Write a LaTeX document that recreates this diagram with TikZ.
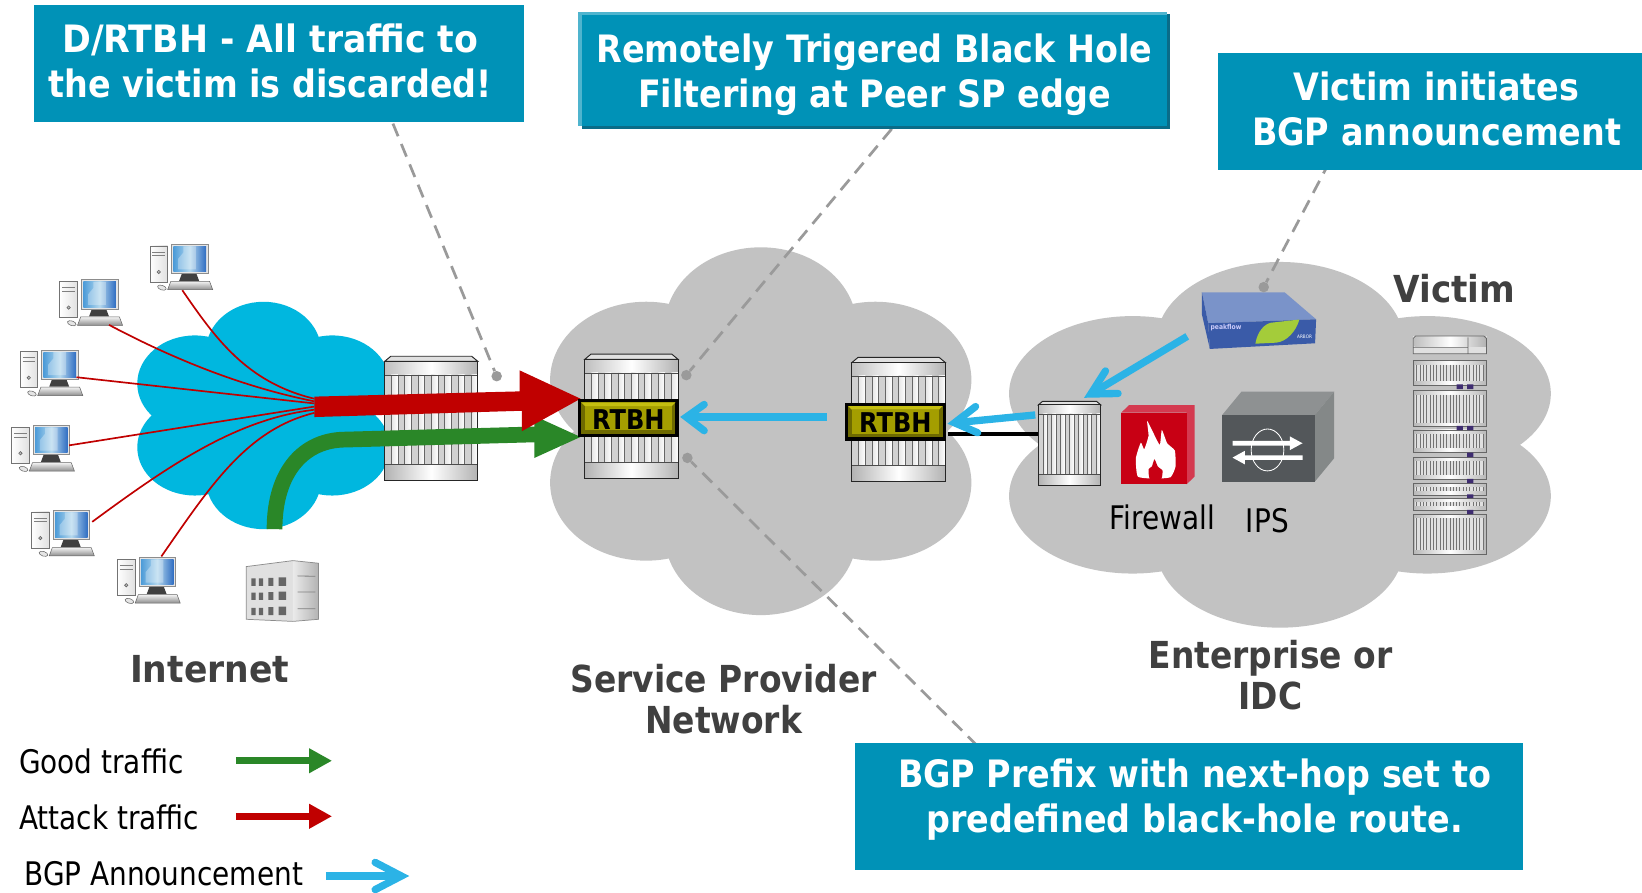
\documentclass[tikz,border=0pt]{standalone}
\usepackage{graphicx}
\usepackage{fontspec}
\setmainfont{DejaVu Sans}
\newfontfamily\hb[FakeStretch=0.885]{DejaVu Sans}
\newfontfamily\hr[FakeStretch=0.86]{DejaVu Sans}
\definecolor{cbox}{HTML}{0092B7}
\definecolor{cdark}{HTML}{404040}
\definecolor{cgrey}{HTML}{C2C2C2}
\definecolor{cnet}{HTML}{00B7DF}
\definecolor{cred}{HTML}{C00000}
\definecolor{cgreen}{HTML}{2A8728}
\definecolor{cblue}{HTML}{2BB3E6}
\definecolor{clead}{HTML}{9A9A9A}
\definecolor{cpurple}{HTML}{3E2C70}
\definecolor{cfa}{HTML}{D43A50}
\definecolor{cfb}{HTML}{C80014}
\definecolor{cia}{HTML}{8E9192}
\definecolor{cib}{HTML}{848888}
\definecolor{cic}{HTML}{53575A}
\definecolor{cpa}{HTML}{7A93C9}
\definecolor{cpb}{HTML}{3A5BA8}
\definecolor{cpc}{HTML}{A4CC3A}
\definecolor{cba}{HTML}{6E6A00}
\definecolor{cbb}{HTML}{A49E00}
\definecolor{cbc}{HTML}{C4BE10}
\definecolor{cta}{HTML}{4FB4CE}
\definecolor{ctb}{HTML}{0A6C88}
\definecolor{cscra}{HTML}{4C9BD8}
\definecolor{cscrb}{HTML}{B4D8EE}
\definecolor{cscrc}{HTML}{2F6DC2}
\tikzset{
  boxshape/.style={fill=cbox,draw=none,inner sep=0pt,outer sep=0pt,rectangle},
  boxtext/.style={font=\hb\bfseries\fontsize{36}{43}\selectfont,text=white,align=center,inner sep=0pt},
  headlabel/.style={font=\hb\bfseries\fontsize{35.5}{39}\selectfont,text=cdark,align=center,inner sep=0pt},
  plainlabel/.style={font=\hr\fontsize{31}{36}\selectfont,text=black,inner sep=0pt},
  leader/.style={draw=clead,line width=2.6pt,dash pattern=on 13pt off 8pt},
  leaddot/.style={circle,fill=clead,minimum size=10pt,inner sep=0pt,draw=none},
  openshaft/.style={draw=cblue,line width=7pt},
  openbarb/.style={draw=cblue,line width=7pt,line cap=round,line join=miter},
  redline/.style={draw=cred,line width=1.6pt},
  pics/computer/.style={code={
    \draw[black!55,line width=.6pt,left color=white,right color=black!12] (0,1.6) rectangle (17,36);
    \draw[black!50,line width=.8pt] (2.5,7.5)--(14.5,7.5) (2.5,11)--(14.5,11);
    \draw[black!60,fill=black!25,line width=.6pt] (8.5,26.5) circle (1.6);
    \fill[black!75] (31,27)--(44,27)--(47,35)--(28,35)--cycle;
    \draw[black!45,fill=black!10,line width=.6pt] (20.5,0) rectangle (55.6,28);
    \shade[left color=cscra,right color=cscrc,middle color=cscrb] (22.5,2) rectangle (53.6,26);
    \fill[white,opacity=.3] (32,2) rectangle (44,24) (27,14)--(32,8)--(32,24)--(27,24)--cycle;
    \draw[black!60,line width=.5pt,top color=black!5,bottom color=black!45] (20,35.5)--(57,35.5)--(60,43.5)--(17,43.5)--cycle;
    \draw[black!60,line width=.5pt,fill=black!10,rotate around={-18:(11.5,41.5)}] (11.5,41.5) ellipse [x radius=4.3,y radius=2.2];
  }},
  pics/router/.style={code={
    \draw[black!85,line width=.9pt,fill=black!12] (6,0)--(84,0)--(90,5)--(0,5)--cycle;
    \shade[left color=black!25,right color=black!30,middle color=white] (0,5) rectangle (90,18);
    \fill[black!18] (0,18) rectangle (90,104);
    \foreach \ix in {1,3,...,13}{\shade[left color=black!10,right color=white] ({\ix*6.43},18) rectangle ({(\ix+1)*6.43},104);}
    \foreach \ix in {1,...,13}{\draw[black!60,line width=.7pt] ({\ix*6.43},18)--({\ix*6.43},104);}
    \shade[left color=black!30,right color=black!30,middle color=white] (0,104) rectangle (90,120);
    \draw[black!70,line width=.6pt] (0,18)--(90,18) (0,104)--(90,104);
    \draw[black!85,line width=.9pt] (0,5) rectangle (90,120);
  }},
  pics/rackunit/.style={code={
    \shade[left color=black!28,right color=black!28,middle color=white] (0,0) rectangle (70,#1);
    \fill[black!12] (2,4) rectangle (68,#1-4);
    \foreach \ix in {1,...,21}{\draw[black!55,line width=.6pt] ({\ix*3.18},4)--({\ix*3.18},#1-4);}
    \draw[black!60,line width=.7pt] (0,0) rectangle (70,#1);
  }}
}
\newcommand{\cloudshape}[5]{% x y w h colour
  \fill[#5] (#1+0.5*#3,#2+0.217*#4) ellipse [x radius=0.228*#3,y radius=0.217*#4];
  \fill[#5] (#1+0.5*#3,#2+0.783*#4) ellipse [x radius=0.228*#3,y radius=0.217*#4];
  \fill[#5] (#1+0.228*#3,#2+0.36*#4) ellipse [x radius=0.228*#3,y radius=0.212*#4];
  \fill[#5] (#1+0.772*#3,#2+0.36*#4) ellipse [x radius=0.228*#3,y radius=0.212*#4];
  \fill[#5] (#1+0.228*#3,#2+0.64*#4) ellipse [x radius=0.228*#3,y radius=0.212*#4];
  \fill[#5] (#1+0.772*#3,#2+0.64*#4) ellipse [x radius=0.228*#3,y radius=0.212*#4];
  \fill[#5] (#1+0.2*#3,#2+0.22*#4) rectangle (#1+0.8*#3,#2+0.78*#4);
}
\newcommand{\badge}[3]{%
  \fill[black] (#1,#2) rectangle (#1+96,#2+36);
  \fill[cba] (#1+3,#2+3) rectangle (#1+93,#2+33);
  \fill[cbb] (#1+6.5,#2+6.5) rectangle (#1+89.5,#2+29.5);
  \fill[cbc] (#1+3,#2+3)--(#1+93,#2+3)--(#1+89.5,#2+6.5)--(#1+6.5,#2+6.5)--cycle;
  \node[font=\hb\bfseries\fontsize{26}{30}\selectfont,text=black,inner sep=0pt] (#3) at (#1+48,#2+19) {RTBH};
}
\begin{document}
\begin{tikzpicture}[x=1pt,y=-1pt]
\useasboundingbox (0,0) rectangle (1567,851.3);
\fill[white] (0,0) rectangle (1567,851.3);

% clouds
\cloudshape{131}{288}{241}{217}{cnet}
\cloudshape{525}{236}{402}{351}{cgrey}
\cloudshape{963}{250}{517}{349}{cgrey}

% computers
\pic (pc1) at (143,233) {computer};
\pic (pc2) at (57,267) {computer};
\pic (pc3) at (19,334) {computer};
\pic (pc4) at (11,406) {computer};
\pic (pc5) at (30,487) {computer};
\pic (pc6) at (112,532) {computer};

% building
\fill[black!12] (235,540.7)--(279.5,535)--(279.5,593)--(235,591)--cycle;
\shade[left color=black!8,right color=black!30] (279.5,535)--(304,537.5)--(304,591)--(279.5,593)--cycle;
\draw[black!45,line width=.7pt] (235,540.7)--(279.5,535)--(304,537.5)--(304,591)--(279.5,593)--(235,591)--cycle;
\foreach \wy in {552,565.5,580}{
  \fill[black!60] (240,\wy) rectangle (244,\wy+7) (247,\wy) rectangle (251,\wy+7) (256,\wy-.5) rectangle (261,\wy+7) (266,\wy-1) rectangle (273,\wy+7);
}
\draw[black!50,line width=.8pt] (284,549.6)--(301,550) (284,565)--(301,565) (284,581)--(301,581);

% routers
\pic[xscale=.99,yscale=.99] (rin) at (367,340) {router};
\pic[xscale=.99,yscale=.99] (rsp) at (558,338) {router};
\pic[xscale=.99,yscale=.99] (rpe) at (813,341) {router};
\pic[xscale=.66,yscale=.667] (rfw) at (991,383) {router};

% firewall
\fill[cfa] (1070,393.8)--(1077.6,386.5)--(1140,386.5)--(1140,454.9)--(1132.3,462.2)--(1132.3,393.8)--cycle;
\fill[cfb] (1070,393.8) rectangle (1132.3,462.2);
\begin{scope}[shift={(973.3,267.2)},scale=.318]
  \fill[white] plot[smooth cycle,tension=.3] coordinates {(354,590)(348,535)(363,488)(373,508)(386,468)(382,423)(402,462)(420,495)(426,450)(442,490)(465,512)(467,560)(452,592)(405,596)};
  \fill[cfb] plot[smooth cycle,tension=.3] coordinates {(390,597)(386,568)(396,560)(404,538)(414,560)(428,572)(424,597)};
\end{scope}

% IPS
\fill[cia] (1166.4,396)--(1184.8,373.7)--(1273.2,373.7)--(1254.8,396)--cycle;
\fill[cib] (1254.8,396)--(1273.2,373.7)--(1273.2,437.3)--(1254.8,459.6)--cycle;
\fill[cic] (1166.4,396) rectangle (1254.8,459.6);
\draw[white,line width=.8pt] (1209.6,429.4) ellipse [x radius=15.6,y radius=20];
\fill[white] (1176.2,420.8) rectangle (1231,425.2) (1231,416.5)--(1243,423)--(1231,429.5)--cycle;
\fill[white] (1243,434.5) rectangle (1188,438.9) (1188,430.2)--(1176.2,436.7)--(1188,443.2)--cycle;

% peakflow box
\fill[cpa] (1147,279)--(1226,279)--(1256,304.7)--(1153,308.5)--cycle;
\fill[cpb] (1147,279)--(1153,308.5)--(1154.6,333)--(1147,300)--cycle;
\fill[cpb] (1153,308.5)--(1256,304.7)--(1255,327.6)--(1154.6,333)--cycle;
\fill[cpc] (1198,328) .. controls (1200,316) and (1207,309) .. (1213,308) -- (1240,304.9) .. controls (1237,316) and (1228,326) .. (1218,327)--cycle;
\node[font=\hb\bfseries\fontsize{6.5}{8}\selectfont,text=black!10!blue!20!white,inner sep=0pt] (peaklabel) at (1170,312.5) {peakflow};
\node[font=\hb\fontsize{4.5}{6}\selectfont,text=white,inner sep=0pt] (arborlabel) at (1245,321.5) {ARBOR};

% victim rack
\fill[black!12] (1348.6,320.6) rectangle (1418.6,337.5);
\shade[left color=black!25,right color=black!30,middle color=white] (1350,321.5) rectangle (1418,331);
\draw[black!60,line width=.7pt] (1348.6,323)--(1351,320.6)--(1416,320.6)--(1418.6,323)--(1418.6,337.5)--(1348.6,337.5)--cycle (1348.6,331.5)--(1401,331.5) (1401,322)--(1401,337.5);
\pic at (1348.6,343.9) {rackunit=23.5};
\pic at (1348.6,372.5) {rackunit=34.7};
\pic at (1348.6,410.3) {rackunit=21.7};
\pic at (1348.6,436.4) {rackunit=20.6};
\pic at (1348.6,461.2) {rackunit=11.2};
\pic at (1348.6,475.5) {rackunit=11.2};
\pic at (1348.6,490.8) {rackunit=37.9};
\fill[cpurple] (1390,366.8) rectangle (1396,371.3) (1400,366.8) rectangle (1406,371.3)
  (1390,406.5) rectangle (1396,410.5) (1400,406.5) rectangle (1406,410.5)
  (1400,432) rectangle (1406,436.2) (1400,457) rectangle (1406,461)
  (1400,471.8) rectangle (1406,475.3) (1400,486.6) rectangle (1406,490.6);

% connector points
\coordinate (j1) at (300,380.5);
\coordinate (j2) at (300,383);
\coordinate (j3) at (300,385);
\coordinate (j4) at (300,388);
\coordinate (j5) at (300,391);
\coordinate (j6) at (300,394);
\coordinate (s1) at (174,277);
\coordinate (s2) at (104,310);
\coordinate (s3) at (73,360);
\coordinate (s4) at (66,425);
\coordinate (s5) at (88,498);
\coordinate (s6) at (154,531);

% red lines
\draw[redline] (s1) .. controls (205,322) and (235,365) .. (j1);
\draw[redline] (s2) .. controls (170,345) and (235,370) .. (j2);
\draw[redline] (s3) -- (j3);
\draw[redline] (s4) -- (j4);
\draw[redline] (s5) .. controls (160,445) and (225,400) .. (j5);
\draw[redline] (s6) .. controls (200,465) and (235,410) .. (j6);

% leaders
\coordinate (l1a) at (375,118); \node[leaddot] (l1b) at (474,359) {};
\coordinate (l2a) at (851,123); \node[leaddot] (l2b) at (655,358) {};
\coordinate (l3a) at (1269,154); \node[leaddot] (l3b) at (1206,274) {};
\coordinate (l4a) at (933,712); \node[leaddot] (l4b) at (656,437) {};
\draw[leader] (l1a) -- (l1b);
\draw[leader] (l2a) -- (l2b);
\draw[leader] (l3a) -- (l3b);
\draw[leader] (l4a) -- (l4b);

% green and red big arrows
\coordinate (gs) at (262,505);
\coordinate (gm) at (330,419.5);
\coordinate (ge) at (512,414.5);
\draw[cgreen,line width=15pt] (gs) .. controls (262,450) and (290,419.5) .. (gm) -- (ge);
\fill[cgreen] (510,397)--(554,417)--(510,437)--cycle;
\fill[cred] (300,378.5)--(496,373.5)--(496,353.5)--(554,380.5)--(498,411.5)--(498,392)--(300,398)--cycle;

% RTBH badges
\badge{551.6}{381}{rtbha}
\badge{806.5}{384.5}{rtbhb}

% link
\coordinate (lka) at (905,414);
\coordinate (lkb) at (991,414);
\draw[black,line width=3.6pt] (lka) -- (lkb);

% blue arrows
\coordinate (b1s) at (789,398); \coordinate (b1t) at (655,398);
\coordinate (b1u) at (672,386); \coordinate (b1v) at (672,411);
\draw[openshaft] (b1s) -- (b1t);
\draw[openbarb] (b1u) -- (b1t) -- (b1v);
\coordinate (b2s) at (988,396); \coordinate (b2t) at (911,403.5);
\coordinate (b2u) at (931,388); \coordinate (b2v) at (933,413);
\draw[openshaft] (b2s) -- (b2t);
\draw[openbarb] (b2u) -- (b2t) -- (b2v);
\coordinate (b3s) at (1133,321); \coordinate (b3t) at (1041,376);
\coordinate (b3u) at (1055,354); \coordinate (b3v) at (1067,375.5);
\draw[openshaft] (b3s) -- (b3t);
\draw[openbarb] (b3u) -- (b3t) -- (b3v);

% callout boxes
\node[boxshape,minimum width=468pt,minimum height=111pt] (box1) at (266,60.5) {};
\fill[cta] (552,11) rectangle (1114,14);
\fill[cta] (552,11) rectangle (555,120);
\fill[ctb] (555,120) rectangle (1117,123.5);
\fill[ctb] (1114,13) rectangle (1117,123.5);
\node[boxshape,minimum width=559pt,minimum height=106pt] (box2) at (834.5,67) {};
\node[boxshape,minimum width=405pt,minimum height=111pt] (box3) at (1364.5,106.5) {};
\node[boxshape,minimum width=637pt,minimum height=121pt] (box4) at (1134.5,769.5) {};
\node[boxtext] (t1) at (258,58) {\scalebox{1.04}[1]{D/RTBH - All traffic to}\\the victim is discarded!};
\node[boxtext] (t2) at (834.5,71) {Remotely Trigered Black Hole\\Filtering at Peer SP edge};
\node[boxtext] (t3) at (1371,104) {Victim initiates\\BGP announcement};
\node[boxtext] (t4) at (1140,763) {BGP Prefix with next-hop set to\\predefined black-hole route.};

% labels
\node[headlabel] (lab1) at (200,639) {\scalebox{1.05}[1]{Internet}};
\node[headlabel] (lab2) at (690.5,667) {Service Provider\\Network};
\node[headlabel] (lab3) at (1212.5,644) {Enterprise or\\IDC};
\node[headlabel] (lab4) at (1388,275) {\scalebox{1.04}[1]{Victim}};
\node[plainlabel] (lab5) at (1109,494) {Firewall};
\node[plainlabel] (lab6) at (1209.5,497) {IPS};

% legend
\node[plainlabel,anchor=west] (lg1) at (18,727) {Good traffic};
\node[plainlabel,anchor=west] (lg2) at (18,780) {Attack traffic};
\node[plainlabel,anchor=west] (lg3) at (23,834) {BGP Announcement};
\coordinate (lg1s) at (225,726); \coordinate (lg1e) at (296,726);
\draw[cgreen,line width=7pt] (lg1s) -- (lg1e);
\fill[cgreen] (295,714)--(316.5,726)--(295,738)--cycle;
\coordinate (lg2s) at (225,779); \coordinate (lg2e) at (296,779);
\draw[cred,line width=7pt] (lg2s) -- (lg2e);
\fill[cred] (295,767)--(316.5,779)--(295,791)--cycle;
\coordinate (lg3s) at (311,836); \coordinate (lg3t) at (383,836);
\coordinate (lg3u) at (358,823); \coordinate (lg3v) at (358,849);
\draw[openshaft] (lg3s) -- (lg3t);
\draw[openbarb] (lg3u) -- (lg3t) -- (lg3v);
\end{tikzpicture}
\end{document}
